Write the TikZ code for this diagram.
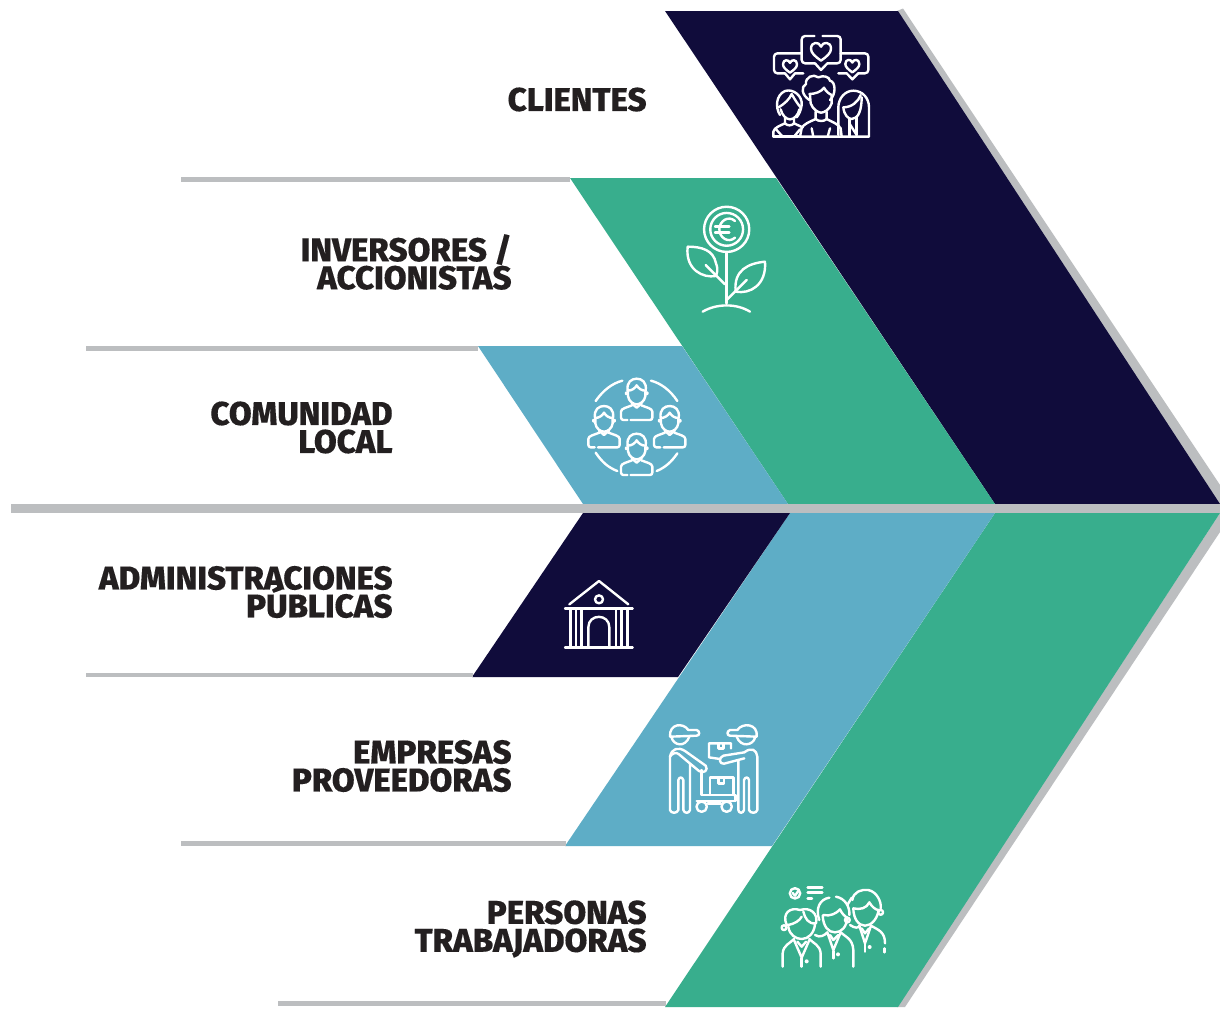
\documentclass[tikz,border=0pt]{standalone}
\usepackage{fontspec}
\setmainfont{Fira Sans}[BoldFont={Fira Sans ExtraBold},BoldFeatures={FakeBold=0.2}]
\definecolor{navy}{HTML}{100C3B}
\definecolor{teal}{HTML}{38AE8D}
\definecolor{sky}{HTML}{5EADC6}
\definecolor{band}{HTML}{BCBEC0}
\definecolor{ink}{HTML}{231F20}
\newcommand{\tightlines}{\setlength{\lineskiplimit}{-30pt}}
\tikzset{
  ic/.style={draw=white,line width=1.2pt,line cap=round,line join=round},
  lab/.style={anchor=east,align=right,inner sep=0pt,text=ink,font=\bfseries\fontsize{16.5}{14}\selectfont\tightlines},
  zoomed/.style={shift={(#1)},x=0.1666667pt,y=-0.1666667pt}
}
\newcommand{\myheart}[3]{% cx cy half-width in zoom units
  \draw[ic,shift={(#1,#2)},x=#3*0.00556pt,y=-#3*0.00556pt] (0,30) .. controls (-18,17) and (-30,7) .. (-30,-6) .. controls (-30,-28) and (-5,-28) .. (0,-12) .. controls (5,-28) and (30,-28) .. (30,-6) .. controls (30,7) and (18,17) .. (0,30);}
\newcommand{\myperson}[2]{%
\begin{scope}[shift={(#1,#2)}]
  \draw[ic] (-27,-8) .. controls (-31,-34) and (-15,-44) .. (0,-44) .. controls (15,-44) and (31,-34) .. (27,-8);
  \draw[ic] (-27,-8) .. controls (-15,-8) and (-5,-15) .. (0,-24) .. controls (6,-14) and (15,-8) .. (27,-8);
  \draw[ic] (-26,-5) -- (-26,8) .. controls (-24,24) and (-10,33) .. (0,33) .. controls (10,33) and (24,24) .. (26,8) -- (26,-5);
  \draw[ic] (-30,0) circle[radius=0.5pt]; \draw[ic] (30,0) circle[radius=0.5pt];
  \draw[ic] (-15,30) -- (0,43) -- (15,30);
  \draw[ic,rounded corners=1.2pt] (-28,80) -- (-47,80) -- (-47,62) .. controls (-47,45) and (-28,42) .. (-14,36);
  \draw[ic,rounded corners=1.2pt] (-18,80) -- (47,80) -- (47,62) .. controls (47,45) and (28,42) .. (14,36);
\end{scope}}
\begin{document}
\begin{tikzpicture}[x=0.5pt,y=-0.5pt]
\useasboundingbox (0,0) rectangle (1220,1008);
\fill[white] (0,0) rectangle (1220,1008);
% upper chevrons
\fill[band] (897,11) -- (903,8.5) -- (1220,485) -- (1220,504) -- (1210,504) -- cycle;
\fill[navy] (665,11) -- (898,11) -- (1220,504) -- (995,504) -- cycle;
\fill[teal] (570,178) -- (776,178) -- (995,504) -- (788,504) -- cycle;
\fill[sky] (478,346) -- (682,346) -- (788,504) -- (583,504) -- cycle;
% lower chevrons
\fill[band] (1220,513) -- (1220,532) -- (905,1007) -- (897,1007) -- cycle;
\fill[teal] (995,513) -- (1220,513) -- (898,1007) -- (665,1007) -- cycle;
\fill[sky] (790,513) -- (995,513) -- (772,846) -- (565,846) -- cycle;
\fill[navy] (583,513) -- (790,513) -- (678,677) -- (472,677) -- cycle;
% bands
\fill[band] (11,504.3) rectangle (1220,512.5);
\fill[band] (181,177) rectangle (570,182);
\fill[band] (86,346) rectangle (478,351);
\fill[band] (86,672.5) rectangle (473,677);
\fill[band] (181,841) rectangle (566,846);
\fill[band] (278,1001) rectangle (666,1006);
% labels
\node[lab] (clientes) at (647,99.5) {CLIENTES};
\node[lab] (inversores) at (512,262) {INVERSORES /\\ACCIONISTAS};
\node[lab] (comunidad) at (393,427.5) {COMUNIDAD\\LOCAL};
\node[lab] (admin) at (393,592) {ADMINISTRACIONES\\PÚBLICAS};
\node[lab] (empresas) at (512,766) {EMPRESAS\\PROVEEDORAS};
\node[lab] (personas) at (647,929) {PERSONAS\\TRABAJADORAS};

% icon 1: clients
\begin{scope}[zoomed={750,20}]
\draw[ic,rounded corners=1.7pt] (193,48) -- (155,48) -- (155,130) -- (195,130);
\draw[ic] (195,130) -- (213,150) -- (232,130);
\draw[ic,rounded corners=1.7pt] (232,130) -- (272,130) -- (272,48) -- (218,48);
\draw[ic,rounded corners=1.7pt] (155,100) -- (72,100) -- (72,160) -- (105,160);
\draw[ic] (105,160) -- (120,178) -- (135,160) -- (160,160);
\draw[ic,rounded corners=1.7pt] (272,100) -- (355,100) -- (355,160) -- (325,160);
\draw[ic] (325,160) -- (307,178) -- (290,160) -- (265,160);
\myheart{213}{92}{30}\myheart{120}{137}{21}\myheart{307}{136}{21}
% left person
\draw[ic] (90,285) .. controls (75,262) and (78,225) .. (105,213) .. controls (130,205) and (158,228) .. (155,255) .. controls (153,270) and (148,282) .. (140,292);
\draw[ic] (86,262) .. controls (105,250) and (118,238) .. (125,222) .. controls (135,240) and (145,255) .. (152,262);
\draw[ic] (92,268) .. controls (96,285) and (108,298) .. (120,298) .. controls (132,298) and (145,285) .. (148,268);
\draw[ic] (105,295) -- (105,310) .. controls (112,318) and (125,318) .. (132,310) -- (132,295);
\draw[ic] (70,350) -- (70,335) .. controls (72,322) and (95,315) .. (105,310);
\draw[ic] (132,310) .. controls (142,315) and (150,318) .. (158,322);
\draw[ic] (70,350) -- (150,350);
\draw[ic] (78,328) -- (98,350);
\draw[ic] (132,350) -- (150,328);
% centre person
\draw[ic] (178,240) .. controls (155,225) and (152,200) .. (168,192) .. controls (165,172) and (190,160) .. (205,172) .. controls (220,165) and (238,170) .. (240,182) .. controls (258,185) and (258,225) .. (240,240);
\draw[ic] (178,222) .. controls (195,222) and (215,215) .. (222,203) .. controls (228,215) and (238,222) .. (245,225);
\draw[ic] (180,225) -- (182,250) .. controls (188,268) and (205,278) .. (213,278) .. controls (222,278) and (240,268) .. (245,250) -- (245,228);
\draw[ic] (197,275) -- (197,297) .. controls (205,305) and (222,305) .. (230,297) -- (230,275);
\draw[ic] (197,297) .. controls (180,305) and (160,312) .. (155,325) -- (150,350) -- (275,350) -- (272,325) .. controls (265,312) and (245,305) .. (230,297);
\draw[ic] (185,325) -- (190,350);
\draw[ic] (240,325) -- (233,350);
% right person
\draw[ic] (265,345) -- (265,262) .. controls (265,235) and (285,212) .. (310,212) .. controls (338,212) and (357,235) .. (357,262) -- (357,350) -- (275,350);
\draw[ic] (280,262) .. controls (305,262) and (325,245) .. (332,225);
\draw[ic] (280,262) .. controls (282,285) and (295,297) .. (305,297) .. controls (325,297) and (335,270) .. (335,232);
\draw[ic] (298,297) -- (298,350);
\draw[ic] (298,310) -- (320,345);
\draw[ic] (320,290) -- (320,345);
\end{scope}

% icon 2: plant
\begin{scope}[zoomed={670,195}]
\draw[ic] (170,103) circle[radius=11.3pt];
\draw[ic] (170,103) circle[radius=8.2pt];
\draw[ic] (195,78) .. controls (175,60) and (148,78) .. (148,103) .. controls (148,128) and (175,146) .. (195,128);
\draw[ic] (135,95) -- (178,95);
\draw[ic] (135,112) -- (178,112);
\draw[ic] (170,172) -- (170,325);
\draw[ic] (98,350) .. controls (140,325) and (200,325) .. (240,350);
\draw[ic] (53,155) .. controls (95,155) and (130,165) .. (138,205) .. controls (146,225) and (140,238) .. (137,243) .. controls (100,250) and (45,225) .. (53,155);
\draw[ic] (107,210) -- (165,268);
\draw[ic] (285,200) .. controls (235,205) and (190,225) .. (197,290) .. controls (240,298) and (290,270) .. (285,200);
\draw[ic] (230,255) -- (170,315);
\end{scope}

% icon 3: community
\begin{scope}[zoomed={575,365}]
\draw[ic] (62,108) .. controls (85,75) and (112,55) .. (142,47);
\draw[ic] (228,47) .. controls (258,55) and (285,75) .. (307,108);
\draw[ic] (62,263) .. controls (80,290) and (100,308) .. (127,318);
\draw[ic] (245,318) .. controls (270,308) and (290,290) .. (307,265);
\myperson{185}{85}\myperson{87}{167}\myperson{284}{167}\myperson{185}{250}
\end{scope}

% icon 4: building
\begin{scope}[zoomed={550,570}]
\draw[ic] (58,103) -- (147,33) -- (235,103);
\draw[ic] (147,88) circle[radius=2pt];
\draw[ic] (45,115) -- (248,115);
\draw[ic] (45,233) -- (248,233);
\foreach \cx in {62,78,95,198,215,232} \draw[ic] (\cx,115) -- (\cx,233);
\draw[ic] (115,233) -- (115,172) .. controls (115,130) and (178,130) .. (178,172) -- (178,233);
\end{scope}

% icon 5: suppliers
\begin{scope}[zoomed={655,715}]
\draw[ic] (45,65) .. controls (42,25) and (85,22) .. (100,45) -- (125,45) .. controls (135,48) and (135,62) .. (125,62) -- (45,65);
\draw[ic] (50,68) .. controls (55,90) and (90,100) .. (103,65);
\draw[ic] (305,65) .. controls (310,25) and (262,22) .. (247,45) -- (225,45) .. controls (215,48) and (215,62) .. (225,62) -- (305,65);
\draw[ic] (300,68) .. controls (295,90) and (258,100) .. (245,65);
% left body
\draw[ic] (90,108) -- (152,152) .. controls (162,165) and (145,178) .. (132,168) -- (72,118) .. controls (65,110) and (50,115) .. (45,125) -- (45,285) .. controls (48,296) and (66,296) .. (70,285) -- (70,195) .. controls (72,185) and (82,185) .. (85,195) -- (85,285) .. controls (88,296) and (102,296) .. (105,285) -- (105,145);
\draw[ic] (90,108) .. controls (70,95) and (50,100) .. (45,125);
% right body
\draw[ic] (268,112) -- (205,122) .. controls (190,128) and (192,148) .. (207,146) -- (268,130);
\draw[ic] (268,112) .. controls (290,95) and (305,105) .. (307,125) -- (307,285) .. controls (304,296) and (286,296) .. (282,285) -- (282,195) .. controls (280,185) and (270,185) .. (267,195) -- (267,285) .. controls (264,296) and (252,296) .. (250,285) -- (250,135);
% boxes
\draw[ic] (228,100) -- (228,85) -- (162,85) -- (162,127) -- (195,132);
\draw[ic] (190,85) -- (190,100) -- (205,100) -- (205,85);
\draw[ic] (165,240) -- (165,188) -- (235,188) -- (235,240);
\draw[ic] (190,188) -- (190,205) -- (207,205) -- (207,188);
% cart
\draw[ic] (140,165) -- (140,240) -- (242,240) -- (242,258) -- (125,258);
\draw[ic] (140,275) circle[radius=2.6pt];
\draw[ic] (215,275) circle[radius=2.6pt];
\draw[ic] (158,265) -- (198,265);
\end{scope}

% icon 6: workers
\begin{scope}[zoomed={770,875}]
\draw[ic] (75,55) circle[radius=2.6pt];
\draw[ic] (68,54) -- (75,62) -- (87,45);
\draw[ic] (113,38) -- (157,38);
\draw[ic] (113,53) -- (157,53);
\draw[ic] (113,71) -- (126,71);
% front person
\draw[ic] (50,150) .. controls (35,115) and (60,95) .. (90,105) .. controls (120,95) and (145,115) .. (138,145) .. controls (115,148) and (105,130) .. (100,110);
\draw[ic] (50,150) .. controls (75,148) and (90,135) .. (95,125);
\draw[ic] (42,158) circle[radius=1.2pt];
\draw[ic] (55,155) .. controls (58,180) and (78,192) .. (95,192) .. controls (115,192) and (132,175) .. (135,148);
\draw[ic] (38,275) -- (38,235) .. controls (40,210) and (60,205) .. (72,192);
\draw[ic] (152,275) -- (152,235) .. controls (150,210) and (130,205) .. (118,192);
\draw[ic] (72,195) -- (95,248) -- (118,195);
\draw[ic] (82,200) -- (95,215) -- (108,200);
\draw[ic] (95,250) -- (95,275);
\fill[white] (110,259) circle[radius=1pt];
% middle person
\draw[ic] (148,135) .. controls (135,100) and (150,72) .. (178,68);
\draw[ic] (198,65) .. controls (225,70) and (240,95) .. (238,120);
\draw[ic] (245,68) -- (232,90);
\draw[ic] (160,120) .. controls (180,125) and (200,115) .. (210,103) .. controls (215,115) and (225,125) .. (232,128);
\draw[ic] (158,122) .. controls (160,155) and (175,172) .. (195,172) .. controls (215,172) and (230,155) .. (232,128);
\draw[ic] (232,135) circle[radius=1.2pt];
\draw[ic] (135,180) .. controls (150,190) and (165,180) .. (172,172) -- (190,225) -- (212,172) .. controls (225,185) and (248,190) .. (250,225) -- (250,275);
\draw[ic] (180,180) -- (190,195) -- (205,180);
\draw[ic] (190,228) -- (190,250);
\fill[white] (204,238) circle[radius=1pt];
% back person
\draw[ic] (247,75) .. controls (250,50) and (275,42) .. (295,45) .. controls (320,50) and (335,80) .. (332,100);
\draw[ic] (250,100) .. controls (270,105) and (290,100) .. (298,82) .. controls (305,95) and (318,105) .. (325,105);
\draw[ic] (250,100) .. controls (250,130) and (265,152) .. (285,152) .. controls (305,152) and (322,130) .. (325,108);
\draw[ic] (332,112) circle[radius=1.2pt];
\draw[ic] (240,150) .. controls (255,160) and (265,160) .. (268,152) -- (285,205) -- (303,152) .. controls (325,165) and (345,170) .. (345,205);
\draw[ic] (275,160) -- (285,175) -- (297,160);
\draw[ic] (285,208) -- (285,230);
\fill[white] (299,216) circle[radius=1pt];
\draw[ic] (343,220) -- (343,232);
\end{scope}
\end{tikzpicture}
\end{document}
